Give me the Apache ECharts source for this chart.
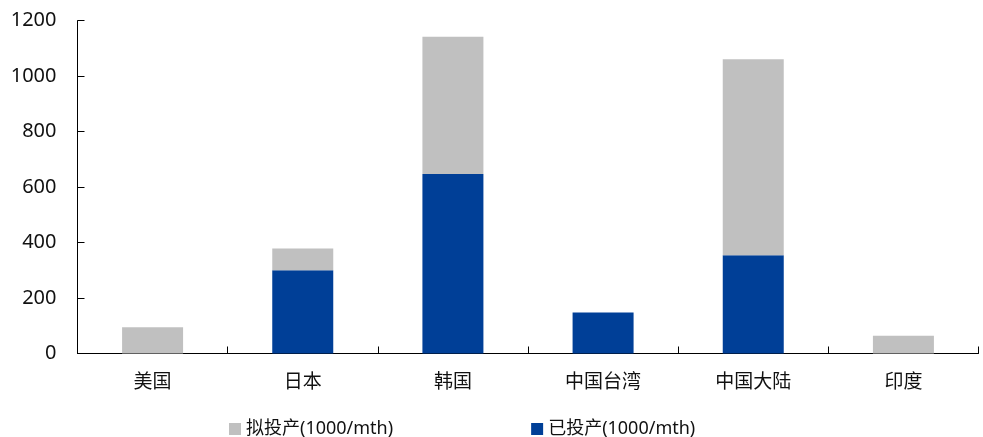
<!DOCTYPE html>
<html>
<head>
<meta charset="utf-8">
<script src="https://cdn.jsdelivr.net/npm/echarts@6/dist/echarts.min.js"></script>
<style>
  html, body { margin: 0; padding: 0; background: #ffffff; }
  #chart { width: 983px; height: 437px; }
</style>
</head>
<body>
<div id="chart"></div>
<script>
// Fab capacity by region, in thousands of wafers per month
const regions = ['美国', '日本', '韩国', '中国台湾', '中国大陆', '印度'];
const plannedName = '拟投产(1000/mth)';
const runningName = '已投产(1000/mth)';
const running = [0, 300, 647, 148, 354, 0];   // already in production
const planned = [95, 79, 495, 0, 707, 64];    // planned capacity, stacked on top
const yTicks = { min: 0, max: 1200, step: 200 };

const chart = echarts.init(document.getElementById('chart'), null, { renderer: 'canvas' });

chart.setOption({
  animation: false,
  backgroundColor: '#ffffff',
  grid: { left: 77.5, right: 4.5, top: 20.7, bottom: 83.5 },
  legend: {
    data: [plannedName, runningName],
    left: 224,
    top: 415,
    itemWidth: 12,
    itemHeight: 12,
    itemGap: 138,
    icon: 'rect',
    textStyle: { fontFamily: 'Noto Sans, Noto Sans CJK SC', fontSize: 18, color: '#111111' }
  },
  xAxis: {
    type: 'category',
    data: regions,
    axisLine: { lineStyle: { color: '#000000', width: 1 } },
    axisTick: { show: true, inside: true, length: 7, lineStyle: { color: '#000000' } },
    axisLabel: {
      margin: 18,
      fontFamily: 'Noto Sans CJK SC',
      fontSize: 19,
      color: '#111111'
    },
    splitLine: { show: false }
  },
  yAxis: {
    type: 'value',
    min: yTicks.min,
    max: yTicks.max,
    interval: yTicks.step,
    axisLine: { show: true, lineStyle: { color: '#000000', width: 1 } },
    axisTick: { show: true, inside: true, length: 7, lineStyle: { color: '#000000' } },
    axisLabel: {
      margin: 21,
      fontFamily: 'Noto Sans',
      fontSize: 20,
      color: '#111111',
      formatter: (v) => String(v)
    },
    splitLine: { show: false }
  },
  series: [
    {
      name: runningName,
      type: 'bar',
      stack: 'capacity',
      data: running,
      barWidth: 61,
      itemStyle: { color: '#003F97' }
    },
    {
      name: plannedName,
      type: 'bar',
      stack: 'capacity',
      data: planned,
      barWidth: 61,
      itemStyle: { color: '#C0C0C0' }
    }
  ]
});
</script>
</body>
</html>
